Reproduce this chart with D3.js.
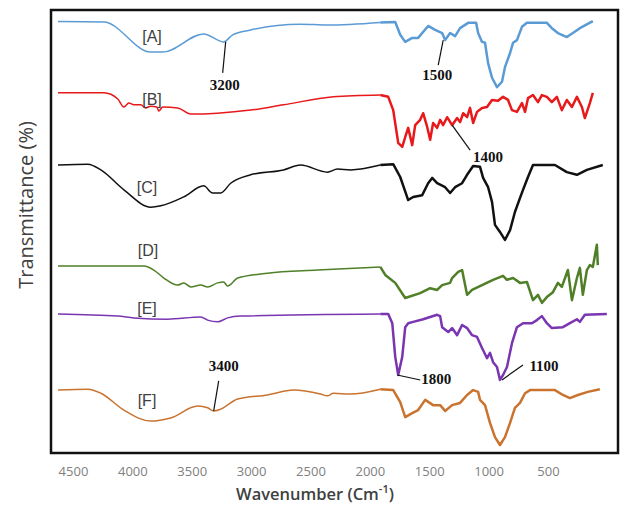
<!DOCTYPE html>
<html>
<head>
<meta charset="utf-8">
<script src="https://cdn.jsdelivr.net/npm/d3@7"></script>
<style>
  body { margin: 0; background: #fff; }
  svg { display: block; }
</style>
</head>
<body>
<script>
// FTIR spectra, stacked traces [A]..[F]
const seriesNames = ['[A]', '[B]', '[C]', '[D]', '[E]', '[F]'];
const xTicks = [4500, 4000, 3500, 3000, 2500, 2000, 1500, 1000, 500];

const aWave = [4626, 4240, 3845, 3744, 3399, 3231, 3155, 3004, 2584, 2357, 1912, 1786, 1744, 1702, 1643, 1593, 1509, 1450, 1391, 1366, 1324, 1282, 1240, 1172, 1105, 1088, 1055, 1030, 1004, 971, 929, 887, 862, 819, 794, 761, 719, 677, 509, 467, 416, 341, 290, 231, 122];
const aTrans = [97.4, 97.3, 90.5, 90.5, 94.6, 92.8, 94.4, 95.5, 96.8, 96.6, 97.2, 97.3, 94.4, 92.8, 93.7, 93.7, 96.4, 95.5, 94.8, 93.2, 94.8, 94.1, 95.9, 97.1, 97.1, 94.8, 92.8, 92.6, 88.0, 84.7, 82.6, 83.8, 87.1, 90.3, 92.6, 93.2, 96.2, 97.1, 97.1, 95.9, 94.8, 93.9, 94.8, 95.9, 97.5];

const bWave = [4626, 4240, 4122, 4071, 4029, 3987, 3929, 3887, 3845, 3794, 3777, 3744, 3618, 3508, 3282, 3004, 2727, 2307, 1912, 1845, 1803, 1761, 1727, 1702, 1677, 1643, 1618, 1576, 1551, 1517, 1492, 1467, 1433, 1408, 1383, 1349, 1307, 1265, 1240, 1214, 1181, 1156, 1130, 1097, 1055, 1013, 971, 920, 878, 836, 803, 761, 719, 693, 668, 626, 584, 551, 509, 467, 425, 383, 341, 298, 256, 214, 189, 147, 122];
const bTrans = [81.3, 81.3, 79.9, 78.1, 79.0, 78.6, 78.6, 77.9, 78.3, 78.1, 77.2, 78.1, 77.9, 76.5, 76.7, 77.4, 78.6, 80.4, 80.8, 80.4, 77.4, 70.0, 69.1, 71.3, 73.4, 69.5, 74.0, 75.2, 76.7, 73.6, 70.7, 74.5, 73.4, 75.2, 74.0, 75.8, 74.0, 75.6, 74.7, 76.7, 75.8, 77.9, 74.5, 77.0, 77.9, 78.1, 79.7, 79.5, 80.4, 79.7, 77.4, 77.0, 79.0, 77.0, 80.1, 80.8, 79.2, 80.8, 80.4, 79.2, 80.4, 77.4, 79.7, 78.1, 80.4, 78.1, 75.6, 79.0, 81.3];

const cWave = [4626, 4374, 4265, 4071, 3845, 3760, 3567, 3399, 3324, 3256, 3172, 3004, 2727, 2584, 2357, 2273, 2164, 1912, 1803, 1744, 1677, 1635, 1559, 1509, 1475, 1433, 1366, 1324, 1282, 1223, 1181, 1130, 1072, 1046, 1004, 971, 946, 904, 862, 819, 778, 735, 710, 668, 626, 441, 341, 256, 172, 38];
const cTrans = [65.0, 65.2, 63.9, 59.4, 55.5, 55.8, 57.8, 60.3, 58.7, 58.7, 60.9, 62.8, 63.9, 65.0, 63.4, 64.1, 63.9, 65.0, 65.2, 62.3, 57.1, 57.8, 58.2, 60.9, 62.1, 60.9, 60.0, 58.7, 60.0, 60.9, 62.8, 64.8, 64.6, 62.1, 60.0, 56.7, 51.5, 49.9, 48.1, 50.3, 54.4, 57.6, 59.4, 62.3, 65.0, 65.0, 63.4, 62.8, 63.9, 65.0];

const dWave = [4626, 3903, 3819, 3735, 3618, 3567, 3508, 3424, 3366, 3282, 3231, 3198, 3113, 2861, 2441, 1912, 1870, 1786, 1702, 1576, 1492, 1433, 1391, 1324, 1307, 1256, 1223, 1181, 1139, 1055, 962, 878, 845, 794, 735, 677, 626, 584, 551, 509, 458, 416, 383, 332, 298, 256, 231, 206, 172, 147, 122, 88, 80];
const dTrans = [42.2, 42.2, 41.3, 39.5, 37.9, 38.4, 37.5, 37.9, 37.5, 38.4, 38.6, 37.7, 39.5, 40.6, 41.3, 42.0, 40.2, 38.4, 35.0, 36.1, 37.2, 36.8, 37.9, 38.4, 39.5, 40.9, 41.3, 35.7, 36.8, 37.9, 39.1, 40.0, 39.1, 39.5, 38.4, 38.6, 34.5, 35.7, 33.9, 35.2, 36.3, 38.4, 37.5, 41.3, 34.5, 39.5, 41.8, 35.7, 41.3, 42.4, 42.0, 47.0, 42.4];

const eWave = [4626, 4122, 3987, 3702, 3424, 3366, 3282, 3198, 3088, 1912, 1845, 1811, 1786, 1761, 1727, 1702, 1677, 1635, 1551, 1433, 1408, 1391, 1340, 1307, 1265, 1223, 1181, 1139, 1097, 1055, 1013, 988, 962, 929, 904, 878, 845, 803, 761, 710, 635, 593, 551, 509, 467, 374, 315, 256, 231, 189, 4];
const eTrans = [31.4, 30.9, 30.5, 30.2, 30.7, 30.0, 29.6, 30.5, 30.9, 31.4, 31.4, 29.3, 21.7, 17.6, 21.7, 28.4, 29.3, 29.6, 30.2, 31.2, 30.9, 28.4, 27.3, 28.2, 26.6, 28.9, 28.2, 26.6, 26.2, 23.7, 21.4, 22.6, 20.5, 19.4, 16.5, 17.6, 19.4, 24.8, 28.4, 29.3, 29.3, 30.0, 30.9, 29.3, 28.2, 28.4, 29.3, 30.2, 29.6, 31.2, 31.4];

const fWave = [4626, 4374, 4265, 4071, 3845, 3677, 3450, 3366, 3315, 3256, 3113, 2861, 2643, 2416, 2357, 2307, 2164, 1912, 1803, 1744, 1702, 1643, 1593, 1534, 1467, 1408, 1366, 1307, 1240, 1181, 1130, 1088, 1072, 1030, 988, 946, 904, 862, 819, 778, 735, 693, 651, 441, 374, 315, 248, 164, 63];
const fTrans = [14.2, 14.4, 13.5, 9.7, 7.2, 7.9, 10.6, 10.2, 9.5, 9.9, 12.2, 13.1, 14.2, 13.3, 12.9, 13.5, 13.3, 14.4, 14.2, 11.5, 8.1, 9.0, 9.7, 12.0, 10.8, 10.8, 9.5, 10.8, 11.3, 13.1, 14.2, 13.8, 12.0, 10.8, 6.8, 3.6, 1.8, 3.6, 6.8, 10.2, 11.3, 13.5, 14.2, 14.2, 13.1, 12.4, 13.1, 13.8, 14.4];

// marked bands: label, wavenumber, transmittance on the trace
const peakLabels = ['3200', '1500', '1400', '3400', '1800', '1100'];
const peakWave = [3214, 1382, 1307, 3315, 1769, 887];
const peakTrans = [92.8, 93.2, 74.0, 9.5, 17.6, 16.5];

const width = 624, height = 507;
const plot = {left: 51, right: 618, top: 10, bottom: 453};

const svg = d3.select('body')
              .append('svg')
              .attr('width', width)
              .attr('height', height);

const x = d3.scaleLinear().domain([4685, -90]).range([plot.left, plot.right]);
const y = d3.scaleLinear().domain([0, 100]).range([plot.bottom, plot.top]);

const colors = ['#5b9bd5', '#e8191b', '#111111', '#4f7f27', '#7a35b0', '#c9732f'];
const waves = [aWave, bWave, cWave, dWave, eWave, fWave];
const trans = [aTrans, bTrans, cTrans, dTrans, eTrans, fTrans];

// label spots in pixels
const labelPos = [[152, 36], [152, 99], [147, 187], [148, 250], [147, 308], [147, 400]];

const smooth = d3.line()
               .x(d => x(d[0]))
               .y(d => y(d[1]))
               .curve(d3.curveMonotoneX);
const sharp = d3.line()
               .x(d => x(d[0]))
               .y(d => y(d[1]));

// left (high wavenumber) part is drawn thinner than the fingerprint region
const split = 1912;
seriesNames.forEach((name, i) => {
    const pts = waves[i].map((w, j) => [w, trans[i][j]]);
    const hi = pts.filter(p => p[0] >= split);
    const lo = pts.filter(p => p[0] <= split);
    svg.append('path')
        .attr('d', smooth(hi))
        .attr('fill', 'none')
        .attr('stroke', colors[i])
        .attr('stroke-width', 1.5)
        .attr('stroke-linejoin', 'round');
    svg.append('path')
        .attr('d', sharp(lo))
        .attr('fill', 'none')
        .attr('stroke', colors[i])
        .attr('stroke-width', 2.5)
        .attr('stroke-linejoin', 'round');
    svg.append('text')
        .attr('x', labelPos[i][0])
        .attr('y', labelPos[i][1])
        .attr('dy', '0.35em')
        .attr('text-anchor', 'middle')
        .style('font-family', 'Liberation Sans, Arial, sans-serif')
        .style('font-size', '16px')
        .style('fill', '#404040')
        .text(name);
});

// band annotations: [line end dx, dy, text dx, dy]
const annOff = [[-3, 31, -1, 43], [-5, 25, -6, 35], [18, 25, 36, 32],
                [5, -30, 10, -45], [23, 5, 39, 4], [21, -15, 42, -14]];
peakLabels.forEach((lab, i) => {
    const px = x(peakWave[i]), py = y(peakTrans[i]);
    const o = annOff[i];
    svg.append('line')
        .attr('x1', px).attr('y1', py)
        .attr('x2', px + o[0]).attr('y2', py + o[1])
        .attr('stroke', '#111')
        .attr('stroke-width', 1.2);
    svg.append('text')
        .attr('x', px + o[2])
        .attr('y', py + o[3])
        .attr('dy', '0.35em')
        .attr('text-anchor', 'middle')
        .style('font-family', 'Liberation Serif, Times New Roman, serif')
        .style('font-weight', 'bold')
        .style('font-size', '15px')
        .style('fill', '#111')
        .text(lab);
});

// frame
svg.append('rect')
    .attr('x', plot.left)
    .attr('y', plot.top)
    .attr('width', plot.right - plot.left)
    .attr('height', plot.bottom - plot.top)
    .attr('fill', 'none')
    .attr('stroke', '#111')
    .attr('stroke-width', 2.5);

// x axis
const xAxis = svg.append('g')
    .attr('transform', `translate(0,${plot.bottom})`)
    .call(d3.axisBottom(x).tickValues(xTicks).tickSize(0).tickPadding(14).tickFormat(d3.format('d')));
xAxis.select('.domain').remove();
xAxis.selectAll('text')
    .style('font-family', 'Open Sans, sans-serif')
    .style('font-size', '13px')
    .style('fill', '#808080');

const xTitle = svg.append('text')
    .attr('x', 315)
    .attr('y', 500)
    .attr('text-anchor', 'middle')
    .style('font-family', 'Open Sans, sans-serif')
    .style('font-size', '16.5px')
    .style('font-weight', '600')
    .style('fill', '#404040');
xTitle.append('tspan').text('Wavenumber (Cm');
xTitle.append('tspan').attr('dy', -7).style('font-size', '11px').text('-1');
xTitle.append('tspan').attr('dy', 7).text(')');

svg.append('text')
    .attr('transform', 'translate(33,205) rotate(-90)')
    .attr('text-anchor', 'middle')
    .style('font-family', 'Open Sans, sans-serif')
    .style('font-size', '20px')
    .style('fill', '#404040')
    .text('Transmittance (%)');
</script>
</body>
</html>
